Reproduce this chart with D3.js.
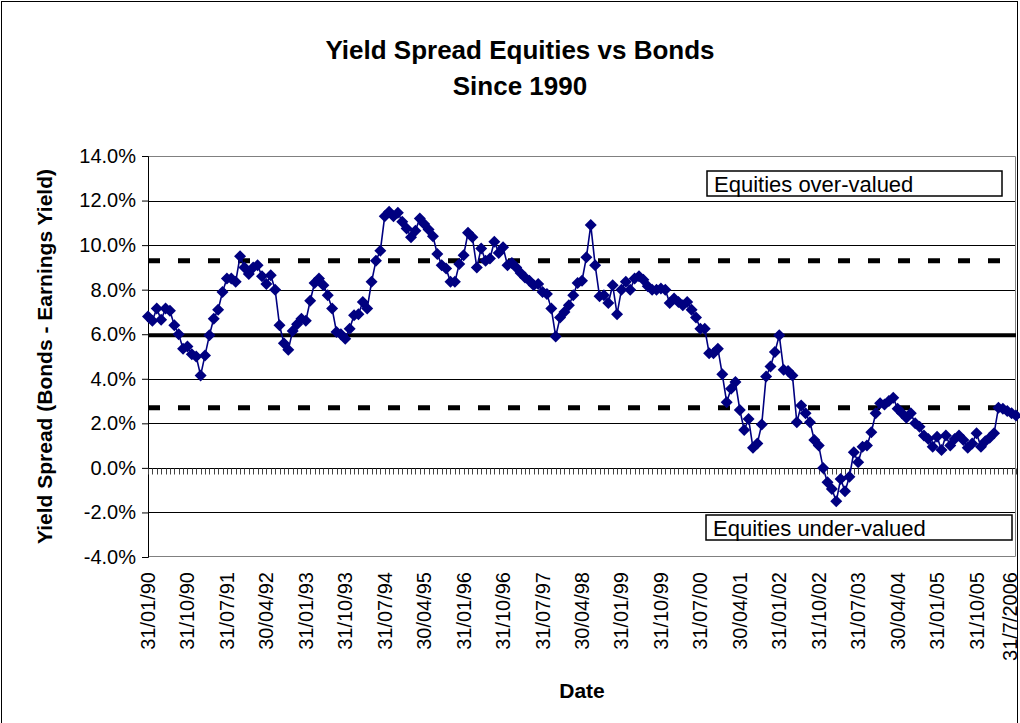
<!DOCTYPE html>
<html>
<head>
<meta charset="utf-8">
<script src="https://cdn.jsdelivr.net/npm/d3@7"></script>
<style>
body { margin: 0; background: #fff; }
text { font-family: "Liberation Sans", Arial, sans-serif; }
</style>
</head>
<body>
<div id="chart"></div>
<script>
// Monthly yield spread (bonds - earnings yield), Jan 1990 .. Jul 2006, in %
var spread = [
    6.8, 6.6, 7.15, 6.65, 7.15, 7.05, 6.4, 6.0, 5.35, 5.45,
    5.1, 5.0, 4.15, 5.05, 5.95, 6.7, 7.1, 7.9, 8.5, 8.5,
    8.35, 9.5, 9.0, 8.7, 9.0, 9.1, 8.6, 8.25, 8.65, 8.0,
    6.4, 5.6, 5.3, 6.15, 6.45, 6.7, 6.6, 7.5, 8.3, 8.5,
    8.2, 7.75, 7.15, 6.1, 6.0, 5.8, 6.25, 6.85, 6.9, 7.45,
    7.15, 8.35, 9.3, 9.75, 11.3, 11.5, 11.3, 11.45, 11.05, 10.75,
    10.35, 10.65, 11.2, 10.95, 10.7, 10.4, 9.6, 9.1, 8.95, 8.35,
    8.35, 9.15, 9.55, 10.55, 10.35, 9.0, 9.85, 9.3, 9.4, 10.15,
    9.65, 9.9, 9.1, 9.2, 9.0, 8.75, 8.55, 8.4, 8.2, 8.25,
    7.9, 7.8, 7.15, 5.9, 6.75, 7.0, 7.3, 7.75, 8.3, 8.4,
    9.45, 10.9, 9.1, 7.7, 7.75, 7.4, 8.2, 6.9, 8.0, 8.35,
    8.0, 8.5, 8.6, 8.45, 8.15, 8.0, 8.0, 8.05, 8.0, 7.4,
    7.6, 7.45, 7.3, 7.45, 7.1, 6.75, 6.25, 6.25, 5.15, 5.15,
    5.35, 4.2, 2.95, 3.55, 3.85, 2.6, 1.7, 2.2, 0.9, 1.1,
    1.95, 4.1, 4.55, 5.2, 5.95, 4.4, 4.35, 4.15, 2.05, 2.8,
    2.45, 2.05, 1.25, 1.0, 0.0, -0.65, -0.95, -1.5, -0.5, -1.05,
    -0.4, 0.7, 0.25, 0.95, 1.0, 1.6, 2.45, 2.9, 2.85, 3.0,
    3.15, 2.65, 2.45, 2.25, 2.45, 2.0, 1.85, 1.45, 1.3, 0.95,
    1.4, 0.8, 1.45, 1.0, 1.3, 1.45, 1.25, 0.9, 1.1, 1.55,
    0.95, 1.2, 1.35, 1.55, 2.7, 2.65, 2.55, 2.45, 2.35
];

// category labels, one every 9 months
var tickLabels = ["31/01/90", "31/10/90", "31/07/91", "30/04/92", "31/01/93", "31/10/93",
    "31/07/94", "30/04/95", "31/01/96", "31/10/96", "31/07/97", "30/04/98", "31/01/99",
    "31/10/99", "31/07/00", "30/04/01", "31/01/02", "31/10/02", "31/07/03", "30/04/04",
    "31/01/05", "31/10/05", "31/7/2006"];
var labelStep = 9;

var yTicks = [-4, -2, 0, 2, 4, 6, 8, 10, 12, 14];

// reference levels (%)
var upperBand = 9.3;
var meanLevel = 5.95;
var lowerBand = 2.7;

var svgWidth = 1020;
var svgHeight = 723;

var margin = { top: 156, right: 4, bottom: 166, left: 148 };
var width = svgWidth - margin.left - margin.right;
var height = svgHeight - margin.top - margin.bottom;

var svg = d3.select("#chart")
    .append("svg")
    .attr("width", svgWidth)
    .attr("height", svgHeight);

// chart area border
svg.append("rect")
    .attr("x", 1.5).attr("y", 1.5)
    .attr("width", 1016).attr("height", 740)
    .attr("fill", "none")
    .attr("stroke", "#000");

var chartGroup = svg.append("g")
    .attr("transform", `translate(${margin.left}, ${margin.top})`);

// scales
var xScale = d3.scalePoint()
    .domain(d3.range(spread.length))
    .range([0, width]);

var yScale = d3.scaleLinear()
    .domain([-4, 14])
    .range([height, 0]);

// gridlines
chartGroup.selectAll(".grid")
    .data(yTicks.slice(1, -1))
    .enter()
    .append("line")
    .attr("x1", 0).attr("x2", width)
    .attr("y1", d => Math.round(yScale(d)) + 0.5)
    .attr("y2", d => Math.round(yScale(d)) + 0.5)
    .attr("stroke", "#000");

// plot area border (top, right, bottom)
chartGroup.append("path")
    .attr("d", `M0,0.5H${width - 0.5}V${height - 0.5}H0`)
    .attr("fill", "none")
    .attr("stroke", "#808080");

// y axis
var yAxis = d3.axisLeft(yScale)
    .tickValues(yTicks)
    .tickSize(6)
    .tickFormat(d => d.toFixed(1) + "%");

var yAxisG = chartGroup.append("g").call(yAxis);
yAxisG.select(".domain").attr("stroke", "#000");
yAxisG.selectAll("text")
    .attr("font-size", "20px")
    .attr("font-family", "Liberation Sans, Arial, sans-serif")
    .attr("fill", "#000")
    .attr("x", -12);

// category axis crossing at 0 with a tick per month
var zeroY = Math.round(yScale(0)) + 0.5;
chartGroup.selectAll(".ctick")
    .data(xScale.domain())
    .enter()
    .append("line")
    .attr("x1", d => Math.round(xScale(d)) + 0.5)
    .attr("x2", d => Math.round(xScale(d)) + 0.5)
    .attr("y1", zeroY)
    .attr("y2", zeroY + 6)
    .attr("stroke", "#444");

// date labels under the plot (last one pulled in so it stays on the page)
chartGroup.selectAll(".xlabel")
    .data(tickLabels)
    .enter()
    .append("text")
    .attr("transform", (d, i) => `translate(${Math.min(xScale(i * labelStep), width - 6)}, ${height + 15}) rotate(-90)`)
    .attr("text-anchor", "end")
    .attr("dy", "0.35em")
    .attr("font-size", "20px")
    .text(d => d);

// reference lines
var bandLine = function(v, dash, w) {
    chartGroup.append("line")
        .attr("x1", 0).attr("x2", width)
        .attr("y1", yScale(v)).attr("y2", yScale(v))
        .attr("stroke", "#000")
        .attr("stroke-width", w)
        .attr("stroke-dasharray", dash);
};
bandLine(upperBand, "12,18", 5);
bandLine(lowerBand, "12,18", 5);
bandLine(meanLevel, null, 4);

// spread series
var line = d3.line()
    .x((d, i) => xScale(i))
    .y(d => yScale(d));

chartGroup.append("path")
    .attr("d", line(spread))
    .attr("fill", "none")
    .attr("stroke", "#000080")
    .attr("stroke-width", 1.6);

var diamond = d3.symbol().type(d3.symbolSquare).size(72);
chartGroup.selectAll(".pt")
    .data(spread)
    .enter()
    .append("path")
    .attr("d", diamond)
    .attr("transform", (d, i) => `translate(${xScale(i)}, ${yScale(d)}) rotate(45)`)
    .attr("fill", "#000080");

// annotation boxes
var noteBox = function(txt, x, y, w) {
    chartGroup.append("rect")
        .attr("x", x).attr("y", y)
        .attr("width", w).attr("height", 25)
        .attr("fill", "#fff")
        .attr("stroke", "#000")
        .attr("stroke-width", 1.5);
    chartGroup.append("text")
        .attr("x", x + 7).attr("y", y + 21)
        .attr("font-size", "22px")
        .text(txt);
};
noteBox("Equities over-valued", 559, 15, 295);
noteBox("Equities under-valued", 558, 359, 306);

// axis titles
svg.append("text")
    .attr("transform", `translate(52, ${margin.top + height / 2}) rotate(-90)`)
    .attr("text-anchor", "middle")
    .attr("font-size", "21px")
    .attr("font-weight", "bold")
    .text("Yield Spread (Bonds - Earnings Yield)");

svg.append("text")
    .attr("x", margin.left + width / 2)
    .attr("y", 698)
    .attr("text-anchor", "middle")
    .attr("font-size", "21px")
    .attr("font-weight", "bold")
    .text("Date");

// title
svg.append("text")
    .attr("x", 520).attr("y", 59)
    .attr("text-anchor", "middle")
    .attr("font-size", "26px")
    .attr("font-weight", "bold")
    .text("Yield Spread Equities vs Bonds");

svg.append("text")
    .attr("x", 520).attr("y", 95)
    .attr("text-anchor", "middle")
    .attr("font-size", "26px")
    .attr("font-weight", "bold")
    .text("Since 1990");
</script>
</body>
</html>
